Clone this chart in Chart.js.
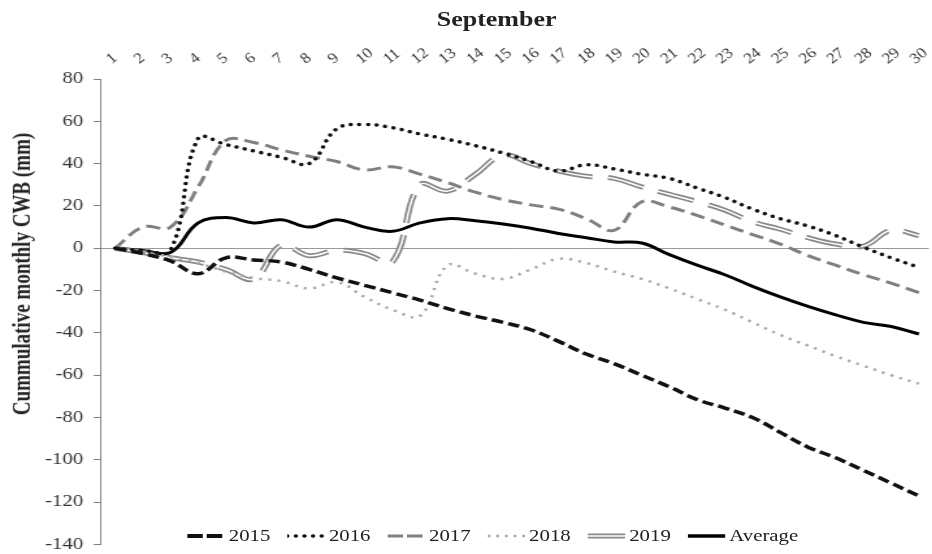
<!DOCTYPE html>
<html>
<head>
<meta charset="utf-8">
<title>Cummulative monthly CWB - September</title>
<script src="https://cdn.jsdelivr.net/npm/chart.js@4.4.1/dist/chart.umd.min.js"></script>
<style>
  html, body { margin: 0; padding: 0; background: #fff; overflow: hidden; }
  /* the source figure is stretched sideways, so the whole block is stretched too */
  #figure { position: relative; width: 717px; height: 554px; transform: scaleX(1.3); transform-origin: 0 0;
            font-family: 'Liberation Serif', 'Times New Roman', serif; color: #222; }
  #plot { position: absolute; left: 0; top: 0; width: 717px; height: 554px; }
  #month { position: absolute; left: 382px; top: 8px; transform: translateX(-50%); font-size: 20px; font-weight: bold; white-space: nowrap; }
  #yTitle { position: absolute; left: 17px; top: 274px; transform: translate(-50%, -50%) rotate(-90deg);
            font-size: 19px; font-weight: bold; white-space: nowrap; }
  #legend { position: absolute; left: 144px; top: 527px; display: flex; align-items: center; font-size: 16px; line-height: 18px; }
  #legend .item { display: flex; align-items: center; margin-right: 13px; }
  #legend svg { margin-right: 3px; }
</style>
</head>
<body>
<div id="figure">
  <div id="plot"><canvas id="cwbChart"></canvas></div>
  <div id="month">September</div>
  <div id="yTitle">Cummulative monthly CWB (mm)</div>
  <div id="legend"></div>
</div>
<script>
// Days of September
const days = [1, 2, 3, 4, 5, 6, 7, 8, 9, 10, 11, 12, 13, 14, 15, 16, 17, 18, 19, 20, 21, 22, 23, 24, 25, 26, 27, 28, 29, 30];

// Cumulative CWB per year (mm)
const cwb2015 = [0, -2.5, -6, -12, -4.5, -5.5, -6.5, -10, -14, -17.5, -21, -24.5, -28.5, -32, -35, -38.5, -44, -50, -54.5, -60, -65.5, -71.5, -75.5, -80, -87, -94, -99, -105, -111, -117];
const cwb2016 = [0, -1, -1, 52, 49, 46, 43, 40, 56.5, 58.5, 57, 54, 51.5, 48.5, 45, 41, 36.5, 39.5, 37.5, 35, 33, 28.5, 24, 18.5, 14, 10.5, 6, 0.5, -4.5, -9];
const cwb2017 = [0, 10, 10, 29, 51, 50, 46.5, 43.5, 41, 37, 38.5, 35, 31, 26.5, 23, 20.5, 18.5, 14, 8.5, 22, 19.5, 15.5, 11, 6.5, 2, -3.5, -8, -12.5, -16.5, -21];
const cwb2018 = [0, -2, -4, -7, -11, -14, -15.5, -19, -16, -23, -29, -32, -8, -12, -14.5, -10, -5, -7, -11, -14.5, -19, -24, -29, -35, -41, -46, -51, -55.5, -60, -64];
const cwb2019 = [0, -2, -4.5, -6.5, -10, -14.5, 1.5, -3.5, -1, -2.5, -6.5, 30, 27, 35, 44, 40, 36.5, 34, 33, 29, 25.5, 22, 18, 12.5, 9, 5, 2, 1, 8.5, 6];
const cwbAverage = [0, -1, -2, 12, 14.5, 12, 13.5, 10, 13.5, 10, 8, 12, 14, 13, 11.5, 9.5, 7, 5, 3, 2.5, -3, -8, -12.5, -18, -23, -27.5, -31.5, -35, -37, -40.5];

// Y axis tick labels
const yTickValues = [80, 60, 40, 20, 0, -20, -40, -60, -80, -100, -120, -140];

const serif = "'Liberation Serif', 'Times New Roman', serif";

function points(values) {
    return days.map((d, i) => ({ x: d, y: values[i] }));
}

// 2019 is a double line: grey stroke with a thin white core
const datasets = [
    { label: '2015', data: points(cwb2015), borderColor: '#111', borderWidth: 3.5, borderDash: [9, 4] },
    { label: '2016', data: points(cwb2016), borderColor: '#111', borderWidth: 3.5, borderDash: [0.01, 6.6], borderCapStyle: 'round' },
    { label: '2017', data: points(cwb2017), borderColor: '#808080', borderWidth: 3, borderDash: [11, 5.5] },
    { label: '2018', data: points(cwb2018), borderColor: '#a8a8a8', borderWidth: 2.5, borderDash: [2.2, 5] },
    { label: '2019 core', data: points(cwb2019), borderColor: '#ffffff', borderWidth: 1.5, borderDash: [29, 12] },
    { label: '2019', data: points(cwb2019), borderColor: '#8a8a8a', borderWidth: 5, borderDash: [29, 12] },
    { label: 'Average', data: points(cwbAverage), borderColor: '#000', borderWidth: 3 }
];
datasets.forEach(ds => {
    ds.pointRadius = 0;
    ds.tension = 0.4;
    ds.fill = false;
});

new Chart(document.getElementById('cwbChart'), {
    type: 'line',
    data: { datasets: datasets },
    options: {
        responsive: true,
        maintainAspectRatio: false,
        animation: false,
        events: [],
        layout: { padding: { top: 0, right: 0, bottom: 9.5, left: 0 } },
        plugins: {
            legend: { display: false },
            tooltip: { enabled: false }
        },
        scales: {
            x: {
                type: 'linear',
                position: 'top',
                min: 0.46,
                max: 30.36,
                afterBuildTicks: scale => { scale.ticks = days.map(d => ({ value: d })); },
                afterFit: scale => { scale.height = 79; scale.paddingLeft = 0; scale.paddingRight = 0; },
                grid: { display: false },
                border: { display: false },
                ticks: {
                    autoSkip: false,
                    minRotation: 45,
                    maxRotation: 45,
                    padding: 4,
                    labelOffset: 7,
                    color: '#333',
                    font: { family: serif, size: 14, style: 'italic' }
                }
            },
            y: {
                min: -140,
                max: 80,
                afterBuildTicks: scale => { scale.ticks = yTickValues.map(v => ({ value: v })); },
                afterFit: scale => { scale.width = 77; scale.paddingTop = 0; scale.paddingBottom = 0; },
                grid: {
                    color: ctx => (ctx.tick && ctx.tick.value === 0) ? '#9a9a9a' : 'rgba(0,0,0,0)',
                    tickColor: '#808080',
                    tickLength: 5,
                    lineWidth: 1
                },
                border: { display: true, color: '#808080', width: 1 },
                ticks: {
                    padding: 8,
                    color: '#333',
                    font: { family: serif, size: 16 }
                }
            }
        }
    }
});

// Legend laid over the bottom of the plot, as in the source figure
const legendItems = [
    { text: '2015', lines: [{ color: '#111', width: 4, dash: '12 3' }] },
    { text: '2016', lines: [{ color: '#111', width: 3.5, dash: '0.01 6.6', cap: 'round' }] },
    { text: '2017', lines: [{ color: '#808080', width: 3, dash: '12 3' }] },
    { text: '2018', lines: [{ color: '#a8a8a8', width: 2.5, dash: '2.2 4.5' }] },
    { text: '2019', lines: [{ color: '#8a8a8a', width: 5 }, { color: '#ffffff', width: 1.5 }] },
    { text: 'Average', lines: [{ color: '#000', width: 3.5 }] }
];
const legend = document.getElementById('legend');
legendItems.forEach(item => {
    const strokes = item.lines.map(l =>
        `<line x1="0" y1="5" x2="29" y2="5" stroke="${l.color}" stroke-width="${l.width}"` +
        (l.dash ? ` stroke-dasharray="${l.dash}"` : '') +
        ` stroke-linecap="${l.cap || 'butt'}"/>`).join('');
    const el = document.createElement('div');
    el.className = 'item';
    el.innerHTML = `<svg width="29" height="10">${strokes}</svg><span>${item.text}</span>`;
    legend.appendChild(el);
});
</script>
</body>
</html>
